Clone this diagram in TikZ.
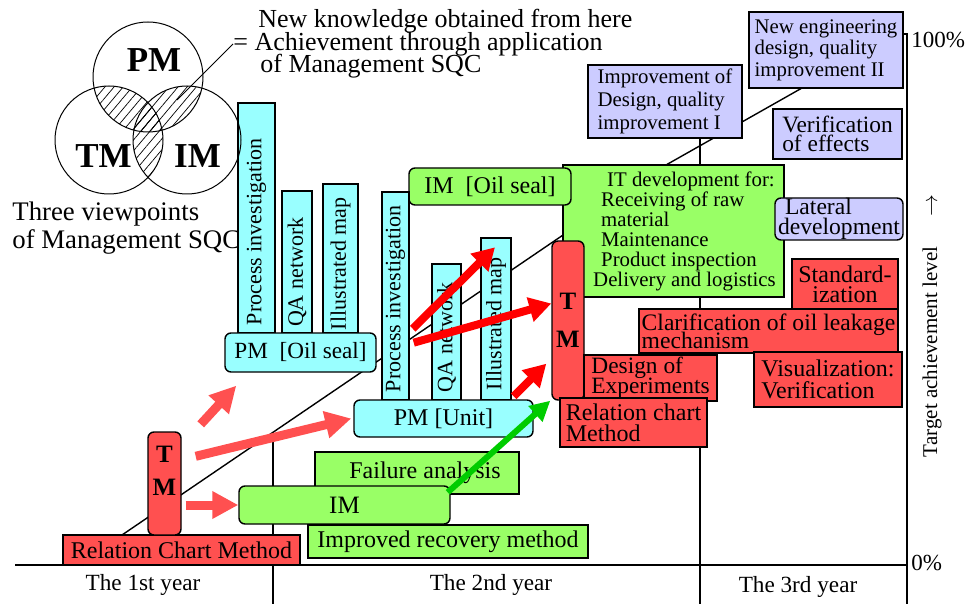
\documentclass[tikz,border=0pt]{standalone}
\usepackage{fontspec}
\setmainfont{Liberation Serif}
\usetikzlibrary{calc,arrows.meta,patterns.meta}

\definecolor{tmred}{RGB}{255,80,80}
\definecolor{pmcyan}{RGB}{153,255,255}
\definecolor{imgreen}{RGB}{153,255,102}
\definecolor{goallav}{RGB}{204,204,255}
\definecolor{hotred}{RGB}{255,0,0}
\definecolor{okgreen}{RGB}{0,204,0}

\newcommand\setfs[2]{\fontsize{#1}{#2}\selectfont\lineskiplimit=-20pt\relax}
\newcommand\vlabel[2]{\rotatebox{90}{\makebox[#1][l]{#2}}}

\begin{document}
\begin{tikzpicture}[x=0.5pt,y=-0.5pt]
  \tikzstyle{sqcbox}=[draw=black,line width=0.7pt,inner sep=0pt,align=left,font=\setfs{12}{10.5}]
  \tikzstyle{redbox}=[sqcbox,fill=tmred]
  \tikzstyle{tmbox}=[draw=black,line width=0.7pt,inner sep=0pt,fill=tmred,rounded corners=3pt]
  \tikzstyle{pmbar}=[sqcbox,fill=pmcyan,align=center,font=\setfs{11}{12}]
  \tikzstyle{pmbox}=[sqcbox,fill=pmcyan,rounded corners=3pt]
  \tikzstyle{imbox}=[sqcbox,fill=imgreen]
  \tikzstyle{imround}=[sqcbox,fill=imgreen,rounded corners=3pt]
  \tikzstyle{goalbox}=[sqcbox,fill=goallav]
  \tikzstyle{plain}=[inner sep=0pt,align=left]
  \tikzstyle{fat}=[line width=4.5pt,tmred,-{Triangle[length=13pt,width=13pt]}]
  \tikzstyle{hot}=[line width=4pt,hotred,-{Triangle[length=11pt,width=12pt]}]
  \tikzstyle{okarrow}=[line width=3pt,okgreen,-{Triangle[length=10pt,width=10pt]}]
  \tikzstyle{hatch}=[pattern={Lines[angle=50,distance=3.5pt,line width=0.35pt]}]

  \useasboundingbox (0,0) rectangle (969,604);

  % axes, year dividers, trend line
  \draw[line width=1pt] (15,565) -- (907,565);
  \draw[line width=1pt] (902,34) -- (907,34) -- (907,604);
  \draw[line width=0.6pt] (273,432) -- (273,604);
  \draw[line width=0.6pt] (700,138) -- (700,604);
  \draw[line width=0.7pt] (122,535) -- (666,165) -- (802,88);

  % goals
  \node[goalbox,minimum width=77pt,minimum height=36.5pt,font=\setfs{10.4}{11.5}] (imp1) at (665,101.5) {Improvement of\\Design, quality\\improvement I};
  \node[goalbox,minimum width=77pt,minimum height=38pt,font=\setfs{10.4}{10.75}] (neweng) at (826,50) {New engineering\\design, quality\\improvement II};
  \node[goalbox,minimum width=64.5pt,minimum height=25pt,font=\setfs{11.7}{9.6}] (verif) at (837.5,134) {Verification\\of effects};

  % IM side
  \node[imbox,minimum width=110.5pt,minimum height=66pt,font=\setfs{10.4}{10}] (itdev) at (673.5,231) {\hspace*{18pt}IT development for:\\\hspace*{15pt}Receiving of raw\\\hspace*{15pt}material\\\hspace*{15pt}Maintenance\\\hspace*{15pt}Product inspection\\\hspace*{11pt}Delivery and logistics};
  \node[imround,minimum width=81pt,minimum height=18.5pt] (imoil) at (490,186.5) {IM\ \ [Oil seal]};
  \node[goalbox,rounded corners=3pt,minimum width=64pt,minimum height=21pt,font=\setfs{11.8}{9.8}] (lateral) at (839,219) {\hspace*{3.5pt}Lateral\\development};

  % TM side
  \node[redbox,minimum width=53pt,minimum height=25pt,align=center,font=\setfs{12}{10}] (stdz) at (845,284) {Standard-\\ization};
  \node[redbox,minimum width=129.5pt,minimum height=22pt,font=\setfs{11.8}{9}] (clar) at (768.5,331) {Clarification of oil leakage\\mechanism};
  \node[redbox,minimum width=74pt,minimum height=27.5pt,font=\setfs{12}{11}] (vis) at (828,379.5) {Visualization:\\Verification};
  \node[tmbox,minimum width=16pt,minimum height=79.5pt,font=\fontsize{12.5}{19}\selectfont\bfseries] (tm2) at (568,320.5) {\begin{tabular}{@{}c@{}}T\\M\end{tabular}};
  \node[redbox,minimum width=66.5pt,minimum height=23pt,font=\setfs{11.7}{10}] (doe) at (650.5,378) {Design of\\Experiments};
  \node[redbox,minimum width=73.5pt,minimum height=24.5pt] (relm) at (633.5,422.5) {Relation chart\\Method};

  % PM side
  \node[pmbar,minimum width=18.5pt,minimum height=115pt] (pi1) at (256.5,218) {\vlabel{107pt}{Process investigation}};
  \node[pmbar,minimum width=15pt,minimum height=71pt] (qa1) at (297,262) {\vlabel{65pt}{QA network}};
  \node[pmbar,minimum width=17.5pt,minimum height=74.5pt] (im1) at (340.5,258.5) {\vlabel{71.5pt}{Illustrated map}};
  \node[pmbox,minimum width=75.5pt,minimum height=19.5pt,font=\setfs{11.6}{12}] (pmoil) at (300.5,352.5) {PM\ \ [Oil seal]};
  \node[pmbar,minimum width=13.5pt,minimum height=104pt] (pi2) at (395.5,296) {\vlabel{96pt}{Process investigation}};
  \node[pmbar,minimum width=14.5pt,minimum height=68pt] (qa2) at (446.5,332) {\vlabel{60pt}{QA network}};
  \node[pmbar,minimum width=15pt,minimum height=81pt] (im2) at (496,319) {\vlabel{71pt}{Illustrated map}};
  \node[pmbox,minimum width=89.5pt,minimum height=18.5pt] (pmunit) at (443.5,418.5) {PM [Unit]};

  % first year
  \node[imbox,minimum width=102pt,minimum height=21pt] (fail) at (417,473) {\hspace*{8pt}Failure analysis};
  \node[imround,minimum width=105.5pt,minimum height=19pt,font=\setfs{12.5}{12}] (im) at (344.5,505) {IM};
  \node[imbox,minimum width=140pt,minimum height=16.5pt] (irm) at (448,541.5) {Improved recovery method};
  \node[redbox,minimum width=118.5pt,minimum height=15pt] (rcm) at (181.5,550) {Relation Chart Method};
  \node[tmbox,minimum width=16.5pt,minimum height=51.5pt,font=\fontsize{12.5}{16.5}\selectfont\bfseries] (tm1) at (164.5,483.5) {\begin{tabular}{@{}c@{}}T\\M\\[11pt]\end{tabular}};

  % arrows
  \draw[fat] ([xshift=2pt]tm1.east |- im.west) -- (im.west);
  \draw[fat] ($(tm1.north east)+(14,25)$) -- ($(pmunit.west)+(-2,0)$);
  \draw[fat] ($(tm1.north east)+(19,-7)$) -- ($(pmoil.south west)+(12,13)$);
  \draw[hot] ($(pi2.south east)+(3,-72)$) -- ($(im2.north)+(-1,10)$);
  \draw[hot] ($(pi2.south east)+(4,-58)$) -- ($(tm2.west)+(0,-17)$);
  \draw[hot] ($(pmunit.north east)+(-20,-3)$) -- ($(tm2.south west)+(-5,-37)$);
  \draw[okarrow] ($(im.north east)+(-3,7)$) -- ($(tm2.south west)+(-1,0)$);

  % three viewpoints
  \coordinate (pmc) at (148,77);
  \coordinate (tmc) at (109,140);
  \coordinate (imc) at (187,140);
  \begin{scope}
    \clip (pmc) circle[radius=27.5pt];
    \fill[hatch] (tmc) circle[radius=27pt];
    \fill[hatch] (imc) circle[radius=27pt];
  \end{scope}
  \begin{scope}
    \clip (tmc) circle[radius=27pt];
    \fill[hatch] (imc) circle[radius=27pt];
  \end{scope}
  \draw[line width=0.5pt] (pmc) circle[radius=27.5pt];
  \draw[line width=0.5pt] (tmc) circle[radius=27pt];
  \draw[line width=0.5pt] (imc) circle[radius=27pt];
  \node[plain,font=\setfs{17.5}{18}\bfseries] (pmlabel) at (154,60) {PM};
  \node[plain,font=\setfs{17.5}{18}\bfseries] (tmlabel) at (103.5,156) {TM};
  \node[plain,font=\setfs{17.5}{18}\bfseries] (imlabel) at (197.5,156) {IM};
  \coordinate (hatchpt) at (177,100);
  \node[plain,anchor=west,font=\setfs{13}{11.25}] (knowledge) at (233,44) {\hspace*{12.5pt}New knowledge obtained from here\\= Achievement through application\\\hspace*{13.5pt}of Management SQC};
  \draw[line width=0.5pt] (hatchpt) -- (knowledge.west);
  \node[plain,anchor=west,font=\setfs{13.4}{14}] (viewpoints) at (12,228) {Three viewpoints\\of Management SQC};

  % scale and years
  \node[plain,anchor=west,font=\setfs{11.5}{12}] (top) at (911,40) {100\%};
  \node[plain,anchor=west,font=\setfs{11.5}{12}] (zero) at (911,563) {0\%};
  \node[plain,rotate=90,font=\setfs{10.5}{12}] (target) at (932,326) {Target achievement level\hspace{15pt}$\rightarrow$};
  \node[plain,font=\setfs{11.6}{12}] (year1) at (143,585) {The 1st year};
  \node[plain,font=\setfs{11.6}{12}] (year2) at (491,585) {The 2nd year};
  \node[plain,font=\setfs{11.6}{12}] (year3) at (798,587) {The 3rd year};
\end{tikzpicture}
\end{document}
